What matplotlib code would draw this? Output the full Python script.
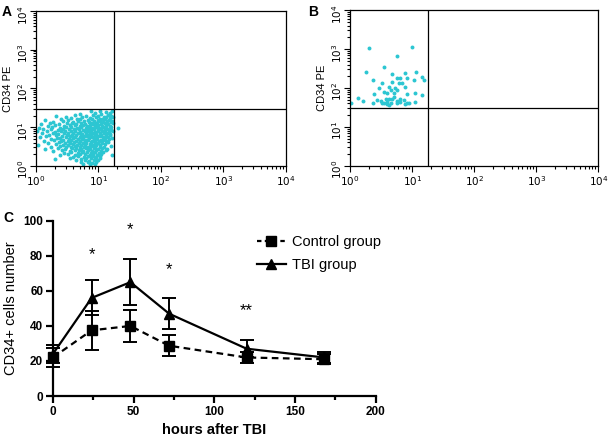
import numpy as np
import matplotlib
matplotlib.use('Agg')
import matplotlib.pyplot as plt
from matplotlib.lines import Line2D

plt.rcParams['font.family'] = ['Liberation Sans', 'DejaVu Sans']

# --- panel A: CD34 PE vs FL1, log10 coordinates ---
a_points_log = [
    (0.88, 1.41), (1.12, 1.38), (1.02, 1.43),
    (0.70, 1.34), (0.95, 1.36), (1.05, 1.33), (1.18, 1.37), (1.22, 1.41),
    (0.33, 1.29), (0.62, 1.31), (0.80, 1.28), (0.91, 1.32), (1.00, 1.30), (1.09, 1.27), (1.15, 1.31), (1.21, 1.29),
    (0.48, 1.26), (0.57, 1.23), (0.74, 1.25), (0.86, 1.24), (0.97, 1.27), (1.03, 1.22), (1.13, 1.25), (1.19, 1.23), (1.24, 1.26),
    (0.15, 1.19), (0.40, 1.21), (0.52, 1.18), (0.66, 1.20), (0.71, 1.22), (0.83, 1.19), (0.90, 1.21), (0.99, 1.18), (1.07, 1.20),
    (1.11, 1.22), (1.17, 1.19), (1.22, 1.17),
    (0.28, 1.14), (0.44, 1.16), (0.60, 1.13), (0.68, 1.15), (0.77, 1.16), (0.85, 1.13), (0.93, 1.15), (0.96, 1.12), (1.02, 1.16),
    (1.08, 1.14), (1.14, 1.15), (1.20, 1.13),
    (0.08, 1.09), (0.22, 1.11), (0.37, 1.08), (0.50, 1.10), (0.58, 1.11), (0.64, 1.08), (0.72, 1.10), (0.79, 1.09), (0.88, 1.11),
    (0.92, 1.08), (0.98, 1.10), (1.04, 1.09), (1.10, 1.11), (1.16, 1.08), (1.23, 1.10),
    (0.19, 1.04), (0.31, 1.06), (0.45, 1.03), (0.55, 1.05), (0.62, 1.06), (0.70, 1.04), (0.76, 1.05), (0.82, 1.03), (0.87, 1.06),
    (0.94, 1.04), (1.00, 1.05), (1.06, 1.03), (1.12, 1.06), (1.18, 1.04),
    (0.05, 0.99), (0.26, 1.01), (0.39, 0.98), (0.49, 1.00), (0.57, 1.01), (0.66, 0.99), (0.73, 1.00), (0.80, 0.98), (0.85, 1.01),
    (0.90, 0.99), (0.96, 1.00), (1.01, 0.98), (1.08, 1.01), (1.13, 0.99), (1.21, 1.00),
    (0.12, 0.94), (0.24, 0.96), (0.35, 0.93), (0.43, 0.95), (0.53, 0.96), (0.61, 0.94), (0.69, 0.95), (0.75, 0.93), (0.83, 0.96),
    (0.88, 0.94), (0.93, 0.95), (0.99, 0.93), (1.04, 0.96), (1.10, 0.94), (1.15, 0.95), (1.20, 0.93),
    (0.02, 0.89), (0.18, 0.91), (0.30, 0.88), (0.41, 0.90), (0.47, 0.91), (0.56, 0.89), (0.63, 0.90), (0.71, 0.88), (0.78, 0.91),
    (0.84, 0.89), (0.89, 0.90), (0.95, 0.88), (1.00, 0.91), (1.06, 0.89), (1.11, 0.90), (1.17, 0.88), (1.24, 0.91),
    (0.10, 0.84), (0.27, 0.86), (0.36, 0.83), (0.45, 0.85), (0.52, 0.86), (0.60, 0.84), (0.67, 0.85), (0.74, 0.83), (0.80, 0.86),
    (0.86, 0.84), (0.92, 0.85), (0.97, 0.83), (1.03, 0.86), (1.09, 0.84), (1.14, 0.85), (1.19, 0.83),
    (0.21, 0.79), (0.33, 0.81), (0.42, 0.78), (0.50, 0.80), (0.58, 0.81), (0.65, 0.79), (0.72, 0.80), (0.77, 0.78), (0.83, 0.81),
    (0.89, 0.79), (0.94, 0.80), (0.99, 0.78), (1.05, 0.81), (1.12, 0.79), (1.18, 0.80),
    (0.06, 0.74), (0.16, 0.76), (0.38, 0.73), (0.48, 0.75), (0.55, 0.76), (0.62, 0.74), (0.70, 0.75), (0.76, 0.73), (0.82, 0.76),
    (0.87, 0.74), (0.91, 0.75), (0.96, 0.73), (1.02, 0.76), (1.08, 0.74), (1.15, 0.75), (1.22, 0.73),
    (0.25, 0.69), (0.34, 0.71), (0.44, 0.68), (0.53, 0.70), (0.59, 0.71), (0.68, 0.69), (0.74, 0.70), (0.81, 0.68), (0.85, 0.71),
    (0.93, 0.69), (0.98, 0.70), (1.04, 0.68), (1.11, 0.71), (1.17, 0.69),
    (0.13, 0.64), (0.29, 0.66), (0.40, 0.63), (0.51, 0.65), (0.57, 0.66), (0.64, 0.64), (0.71, 0.65), (0.78, 0.63), (0.84, 0.66),
    (0.90, 0.64), (0.95, 0.65), (1.01, 0.63), (1.07, 0.66), (1.13, 0.64),
    (0.20, 0.59), (0.37, 0.61), (0.46, 0.58), (0.54, 0.60), (0.61, 0.61), (0.69, 0.59), (0.75, 0.60), (0.80, 0.58), (0.88, 0.61),
    (0.94, 0.59), (1.00, 0.60), (1.06, 0.58), (1.16, 0.61),
    (0.04, 0.54), (0.32, 0.56), (0.43, 0.53), (0.52, 0.55), (0.60, 0.56), (0.66, 0.54), (0.73, 0.55), (0.79, 0.53), (0.86, 0.56),
    (0.91, 0.54), (0.97, 0.55), (1.03, 0.53), (1.10, 0.56),
    (0.24, 0.49), (0.39, 0.51), (0.49, 0.48), (0.56, 0.50), (0.63, 0.51), (0.70, 0.49), (0.77, 0.50), (0.83, 0.48), (0.89, 0.51),
    (0.95, 0.49), (1.02, 0.50), (1.09, 0.48), (1.20, 0.51),
    (0.14, 0.44), (0.35, 0.46), (0.47, 0.43), (0.58, 0.45), (0.65, 0.46), (0.72, 0.44), (0.81, 0.45), (0.87, 0.43), (0.93, 0.46),
    (0.99, 0.44), (1.06, 0.45), (1.14, 0.43),
    (0.28, 0.39), (0.42, 0.41), (0.54, 0.38), (0.62, 0.40), (0.69, 0.41), (0.76, 0.39), (0.84, 0.40), (0.90, 0.38), (0.96, 0.41),
    (1.04, 0.39), (1.12, 0.40),
    (0.45, 0.34), (0.57, 0.36), (0.67, 0.33), (0.74, 0.35), (0.82, 0.36), (0.88, 0.34), (0.95, 0.35), (1.01, 0.33), (1.08, 0.36),
    (0.38, 0.29), (0.52, 0.31), (0.63, 0.28), (0.71, 0.30), (0.79, 0.31), (0.86, 0.29), (0.92, 0.30), (0.98, 0.28), (1.05, 0.31),
    (1.22, 0.29),
    (0.60, 0.24), (0.68, 0.26), (0.77, 0.23), (0.84, 0.25), (0.91, 0.26), (0.97, 0.24), (1.03, 0.25),
    (0.30, 0.19), (0.55, 0.21), (0.73, 0.18), (0.80, 0.20), (0.88, 0.21), (0.95, 0.19), (1.02, 0.20),
    (0.65, 0.14), (0.78, 0.16), (0.85, 0.13), (0.93, 0.15), (0.99, 0.16),
    (0.72, 0.09), (0.83, 0.11), (0.90, 0.08), (0.97, 0.10),
    (0.76, 0.04), (0.87, 0.06), (0.94, 0.05),
    (1.31, 0.99),
]

# --- panel B ---
b_points_log = [
    (0.31, 3.02), (0.99, 3.06), (0.76, 2.82), (0.54, 2.55), (0.26, 2.40), (0.68, 2.35), (0.88, 2.38), (1.06, 2.42),
    (0.37, 2.21), (0.75, 2.25), (0.81, 2.25), (0.92, 2.25), (1.03, 2.21), (1.16, 2.27), (1.19, 2.21),
    (0.52, 2.12), (0.68, 2.16), (0.79, 2.12), (0.84, 2.12), (0.47, 1.99), (0.63, 2.03), (0.73, 1.99), (0.89, 2.03),
    (0.55, 1.91), (0.66, 1.95), (0.76, 1.95), (0.39, 1.85), (0.60, 1.86), (0.71, 1.86), (0.91, 1.85), (1.05, 1.86),
    (1.16, 1.82), (0.13, 1.75), (0.21, 1.67), (0.44, 1.69), (0.50, 1.67), (0.58, 1.71), (0.63, 1.73), (0.71, 1.76),
    (0.81, 1.71), (0.87, 1.69), (0.37, 1.62), (0.52, 1.62), (0.60, 1.65), (0.66, 1.62), (0.75, 1.61), (0.81, 1.65),
    (0.92, 1.62), (1.05, 1.65), (0.02, 1.62), (0.68, 1.71), (0.76, 1.67), (0.59, 1.59), (0.63, 1.56), (0.89, 1.59),
    (0.95, 1.61), (0.55, 1.61),
]

# quadrant gates
gate_x = 18
gate_y = 30
decades = [1, 10, 100, 1000, 10000]
decade_labels = [r'$10^{0}$', r'$10^{1}$', r'$10^{2}$', r'$10^{3}$', r'$10^{4}$']

# --- panel C ---
hours = [0, 24, 48, 72, 120, 168]
control_mean = [22, 37.5, 40, 28.7, 22, 21]
control_err = [5.5, 11, 9, 6, 3, 3]
tbi_mean = [24, 56, 65, 47, 27, 22]
tbi_err = [5, 10, 13, 8.7, 5, 3]
star_hours = [24, 48, 72, 120]
star_labels = ['*', '*', '*', '**']
star_y = [81, 95, 72, 49]

dot_color = '#2cc6d2'

fig = plt.figure(figsize=(6.08, 4.4), dpi=100)
ax_a = fig.add_axes([0.059, 0.623, 0.411, 0.352])
ax_b = fig.add_axes([0.576, 0.623, 0.408, 0.354])
ax_c = fig.add_axes([0.087, 0.100, 0.531, 0.398])


def flow_panel(ax, pts):
    pts = np.array(pts)
    ax.scatter(10 ** pts[:, 0], 10 ** pts[:, 1], s=8, color=dot_color, linewidths=0, zorder=2)
    ax.set_xscale('log')
    ax.set_yscale('log')
    ax.set_xlim(1, 1e4)
    ax.set_ylim(1, 1e4)
    ax.set_xticks(decades)
    ax.set_xticklabels(decade_labels, fontsize=7.5)
    ax.set_yticks(decades)
    ax.set_yticklabels(decade_labels, fontsize=7.5)
    ax.axvline(gate_x, color='black', lw=0.9)
    ax.axhline(gate_y, color='black', lw=0.9)
    ax.tick_params(which='both', direction='out', width=0.8)
    ax.tick_params(which='major', length=4)
    ax.tick_params(which='minor', length=2)
    ax.tick_params(axis='x', pad=2)
    ax.tick_params(axis='y', labelrotation=90, pad=0.5)
    for s in ax.spines.values():
        s.set_linewidth(0.9)
    ax.set_ylabel('CD34 PE', fontsize=8, labelpad=2)


flow_panel(ax_a, a_points_log)
flow_panel(ax_b, b_points_log)

# panel C
ax_c.errorbar(hours, control_mean, yerr=control_err, color='black', lw=1.6, ls=(0, (3, 2)),
              marker='s', ms=7, capsize=5, elinewidth=1.4, capthick=1.4, clip_on=False, zorder=3)
ax_c.errorbar(hours, tbi_mean, yerr=tbi_err, color='black', lw=1.6, ls='-',
              marker='^', ms=7, capsize=5, elinewidth=1.4, capthick=1.4, clip_on=False, zorder=3)
for h, lab, y in zip(star_hours, star_labels, star_y):
    ax_c.text(h, y, lab, ha='center', va='center', fontsize=12)

ax_c.set_xlim(0, 200)
ax_c.set_ylim(0, 100)
ax_c.set_xticks([0, 50, 100, 150, 200])
ax_c.set_xticks([25, 75, 125, 175], minor=True)
ax_c.set_yticks([0, 20, 40, 60, 80, 100])
ax_c.spines['top'].set_visible(False)
ax_c.spines['right'].set_visible(False)
for s in ['left', 'bottom']:
    ax_c.spines[s].set_linewidth(1.6)
ax_c.tick_params(which='both', direction='out', width=1.6, labelsize=8.5, pad=2)
ax_c.tick_params(which='major', length=5)
ax_c.tick_params(which='minor', length=3)
for lab in ax_c.get_xticklabels() + ax_c.get_yticklabels():
    lab.set_fontweight('bold')
ax_c.set_xlabel('hours after TBI', fontsize=10.5, fontweight='bold', labelpad=4)
ax_c.set_ylabel('CD34+ cells number', fontsize=10.5, labelpad=4)

handles = [
    Line2D([], [], color='black', lw=1.6, ls=(0, (2, 1.5)), marker='s', ms=7),
    Line2D([], [], color='black', lw=1.6, ls='-', marker='^', ms=7),
]
ax_c.legend(handles, ['Control group', 'TBI group'], loc='upper left', bbox_to_anchor=(0.59, 0.995),
            frameon=False, fontsize=10.5, handlelength=2.0, handletextpad=0.4, labelspacing=0.6)

fig.text(0.003, 0.973, 'A', fontsize=10, fontweight='bold', va='center')
fig.text(0.506, 0.973, 'B', fontsize=10, fontweight='bold', va='center')
fig.text(0.005, 0.505, 'C', fontsize=10, fontweight='bold', va='center')

fig.savefig('out.png', dpi=100)
